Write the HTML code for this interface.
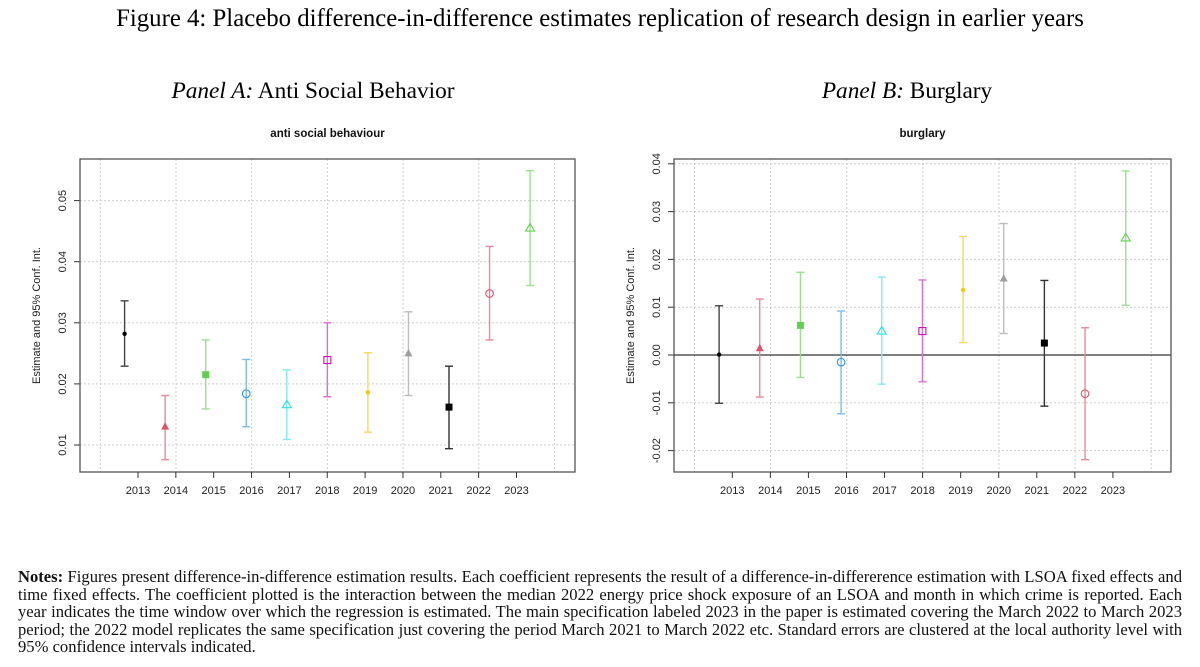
<!DOCTYPE html>
<html><head><meta charset="utf-8"><style>
body{margin:0;width:1200px;height:667px;background:#fff;position:relative;overflow:hidden;font-family:"Liberation Serif",serif}
.t{position:absolute;white-space:nowrap}
#notes{position:absolute;left:18px;top:568px;width:1164px;font-size:16.6px;line-height:17.5px;text-align:justify;color:#111}
</style></head><body>
<div class="t" style="left:0;width:1200px;text-align:center;top:5px;font-size:24.8px">Figure 4: Placebo difference-in-difference estimates replication of research design in earlier years</div>
<div class="t" style="left:13px;width:600px;text-align:center;top:78px;font-size:23.3px"><i>Panel A:</i> Anti Social Behavior</div>
<div class="t" style="left:607px;width:600px;text-align:center;top:78px;font-size:23.3px"><i>Panel B:</i> Burglary</div>
<svg id="chart" width="1200" height="560" style="position:absolute;left:0;top:0" font-family="Liberation Sans, sans-serif"></svg>
<div id="notes"><b>Notes:</b> Figures present difference-in-difference estimation results. Each coefficient represents the result of a difference-in-differerence estimation with LSOA fixed effects and time fixed effects. The coefficient plotted is the interaction between the median 2022 energy price shock exposure of an LSOA and month in which crime is reported. Each year indicates the time window over which the regression is estimated. The main specification labeled 2023 in the paper is estimated covering the March 2022 to March 2023 period; the 2022 model replicates the same specification just covering the period March 2021 to March 2022 etc. Standard errors are clustered at the local authority level with 95% confidence intervals indicated.</div>
<script>
const years=["2013","2014","2015","2016","2017","2018","2019","2020","2021","2022","2023"];
const asbEst=[0.0282,0.0130,0.0215,0.0184,0.0166,0.0239,0.0186,0.0250,0.0162,0.0348,0.0455];
const asbHi=[0.0336,0.0181,0.0272,0.0240,0.0223,0.0300,0.0251,0.0318,0.0229,0.0425,0.0549];
const asbLo=[0.0229,0.0076,0.0159,0.0130,0.0109,0.0179,0.0121,0.0181,0.0094,0.0272,0.0361];
const asbTicks=[0.01,0.02,0.03,0.04,0.05];
const burEst=[0.0001,0.0014,0.0062,-0.0015,0.0050,0.0050,0.0136,0.0160,0.0025,-0.0081,0.0245];
const burHi=[0.0103,0.0117,0.0173,0.0092,0.0163,0.0157,0.0248,0.0275,0.0156,0.0057,0.0385];
const burLo=[-0.0101,-0.0088,-0.0047,-0.0123,-0.0061,-0.0056,0.0026,0.0045,-0.0107,-0.0219,0.0104];
const burTicks=[-0.02,-0.01,0.00,0.01,0.02,0.03,0.04];
const burTickLabels=["-0.02","-0.01","0.00","0.01","0.02","0.03","0.04"];
const cols=["#000","#DF536B","#61D04F","#2297E6","#28E2E5","#CD0BBC","#F5C710","#9E9E9E","#000","#DF536B","#61D04F"];
const barCols=["#444","#E8899A","#9ADF8E","#7DBBEE","#7DECEE","#DD6ED2","#F7D95F","#BDBDBD","#333","#E8899A","#9ADF8E"];
const pch=["dot","tri","sq","circ","otri","osq","dot","tri","sq","circ","otri"];
const svg=document.getElementById('chart');const NS="http://www.w3.org/2000/svg";
function mk(tag,a,p){const e=document.createElementNS(NS,tag);for(const k in a)e.setAttribute(k,a[k]);(p||svg).appendChild(e);return e;}
function panel(o){
 const g=mk('g',{});
 
 
 const y=v=>o.y0+(v-o.v0)*o.py;
 const px=i=>o.p0+o.ps*i, tx=i=>o.t0+o.ts*i;
 for(let j=0;j<7;j++){const gx=o.g0+2*o.ts*j;if(gx<o.L||gx>o.R)continue;
  const l=mk('line',{x1:gx,x2:gx,y1:o.T,y2:o.B,stroke:'#ccc','stroke-dasharray':'2,2','stroke-width':1},g);
  }
 o.ticks.forEach((v,k)=>{const l=mk('line',{x1:o.L,x2:o.R,y1:y(v),y2:y(v),stroke:'#ccc','stroke-dasharray':'2,2'},g);
  
  mk('line',{x1:o.L-6,x2:o.L,y1:y(v),y2:y(v),stroke:'#333'},g);
  const t=mk('text',{x:o.L-14,y:y(v),'font-size':11,'text-anchor':'middle',fill:'#222',transform:`rotate(-90 ${o.L-14} ${y(v)})`},g);
  t.textContent=o.tl[k];});
 if(o.zero){const z=mk('line',{x1:o.L,x2:o.R,y1:y(0),y2:y(0),stroke:'#333','stroke-width':1.2},g);}
 const b=mk('rect',{x:o.L,y:o.T,width:o.R-o.L,height:o.B-o.T,fill:'none',stroke:'#555','stroke-width':1.3},g);
 
 years.forEach((yr,i)=>{mk('line',{x1:tx(i),x2:tx(i),y1:o.B,y2:o.B+6,stroke:'#333'},g);
  const t=mk('text',{x:tx(i),y:o.B+22,'font-size':11,'text-anchor':'middle',fill:'#222'},g);t.textContent=yr;
  });
 const at=mk('text',{x:o.L-40,y:(o.T+o.B)/2,'font-size':11,'text-anchor':'middle',fill:'#222',transform:`rotate(-90 ${o.L-40} ${(o.T+o.B)/2})`},g);
 at.textContent='Estimate and 95% Conf. Int.';
 const tt=mk('text',{x:(o.L+o.R)/2,y:o.T-22,'font-size':11.5,'font-weight':'bold','text-anchor':'middle',fill:'#111'},g);
 tt.textContent=o.title;
 o.est.forEach((v,i)=>{const x=px(i),c=cols[i],bc=barCols[i];
  const eg=mk('g',{},g);
  mk('line',{x1:x,x2:x,y1:y(o.hi[i]),y2:y(o.lo[i]),stroke:bc,'stroke-width':1.4},eg);
  mk('line',{x1:x-4,x2:x+4,y1:y(o.hi[i]),y2:y(o.hi[i]),stroke:bc,'stroke-width':1.4},eg);
  mk('line',{x1:x-4,x2:x+4,y1:y(o.lo[i]),y2:y(o.lo[i]),stroke:bc,'stroke-width':1.4},eg);
  const yy=y(v),p=pch[i];
  if(p=='dot')mk('circle',{cx:x,cy:yy,r:2.2,fill:c},eg);
  else if(p=='tri')mk('polygon',{points:`${x},${yy-4.5} ${x-4},${yy+3} ${x+4},${yy+3}`,fill:c},eg);
  else if(p=='sq')mk('rect',{x:x-3.5,y:yy-3.5,width:7,height:7,fill:c},eg);
  else if(p=='circ')mk('circle',{cx:x,cy:yy,r:3.8,fill:'none',stroke:c,'stroke-width':1.1},eg);
  else if(p=='otri')mk('polygon',{points:`${x},${yy-4.5} ${x-4.5},${yy+3} ${x+4.5},${yy+3}`,fill:'none',stroke:c,'stroke-width':1.1},eg);
  else mk('rect',{x:x-3.5,y:yy-3.5,width:7,height:7,fill:'none',stroke:c,'stroke-width':1.1},eg);
 });
}
panel({name:'panel-a-chart',title:'anti social behaviour',L:80,R:575,T:159,B:472,y0:445,v0:0.01,py:-6110,
 p0:124.6,ps:40.55,t0:138,ts:37.85,g0:100.3,ticks:asbTicks,tl:asbTicks.map(v=>v.toFixed(2)),est:asbEst,hi:asbHi,lo:asbLo,zero:false});
panel({name:'panel-b-chart',title:'burglary',L:674,R:1171,T:159,B:472,y0:355,v0:0,py:-4780,
 p0:719.1,ps:40.66,t0:732.3,ts:38.06,g0:694.5,ticks:burTicks,tl:burTickLabels,est:burEst,hi:burHi,lo:burLo,zero:true});
</script>
</body></html>
